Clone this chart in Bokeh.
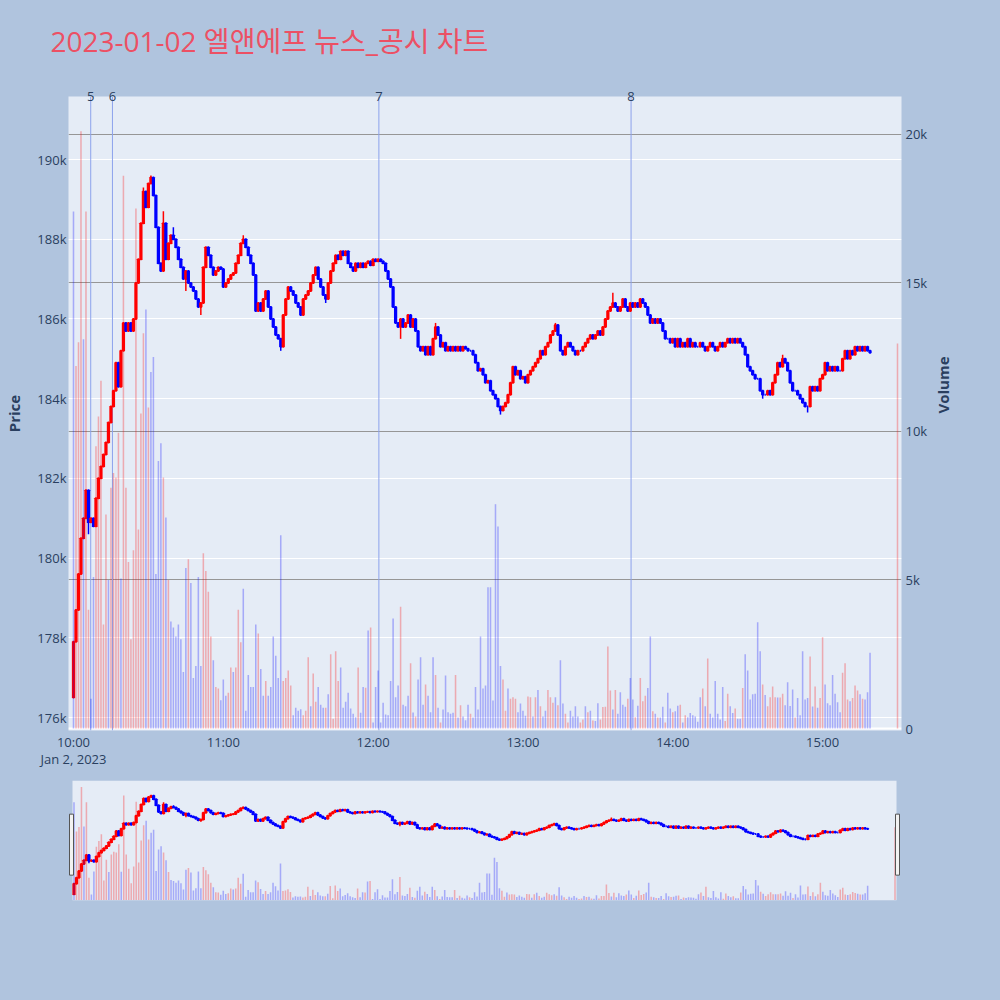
import math
from bokeh.plotting import figure
from bokeh.models import (ColumnDataSource, Range1d, LinearAxis, FixedTicker, Grid,
                          Span, Label, BoxAnnotation, GlobalInlineStyleSheet)
from bokeh.layouts import column
from bokeh.embed import file_html
from bokeh.resources import INLINE

# ---------------- data (prices in thousand KRW, minutes after 10:00) ----------------
first_open = 176.5
closes = [
    177.9, 178.7, 179.6, 180.5, 181.0, 181.7, 180.9, 181.0, 180.8, 181.5,
    182.0, 182.3, 182.6, 182.9, 183.4, 183.8, 184.2, 184.9, 184.3, 185.2,
    185.9, 185.7, 185.9, 185.7, 186.0, 186.9, 187.5, 188.4, 189.2, 188.8,
    189.4, 189.55, 189.1, 188.3, 187.4, 187.2, 188.4, 187.5, 187.9, 188.1,
    188.0, 187.8, 187.5, 187.3, 187.0, 187.2, 186.9, 186.8, 186.7, 186.5,
    186.3, 186.4, 187.3, 187.8, 187.6, 187.3, 187.1, 187.2, 187.3, 187.25,
    186.8, 186.9, 187.0, 187.1, 187.15, 187.4, 187.6, 187.9, 188.0, 187.8,
    187.6, 187.4, 187.1, 186.2, 186.4, 186.2, 186.5, 186.7, 186.3, 186.0,
    185.8, 185.6, 185.5, 185.3, 186.1, 186.5, 186.8, 186.7, 186.6, 186.4,
    186.3, 186.1, 186.5, 186.6, 186.7, 186.9, 187.1, 187.3, 187.0, 186.8,
    186.6, 186.5, 186.9, 187.2, 187.4, 187.6, 187.5, 187.7, 187.6, 187.7,
    187.4, 187.3, 187.2, 187.4, 187.3, 187.4, 187.3, 187.4, 187.45, 187.35,
    187.5, 187.45, 187.5, 187.45, 187.4, 187.2, 187.0, 186.8, 186.3, 185.9,
    185.8, 186.0, 185.8, 185.9, 186.1, 185.8, 186.0, 185.7, 185.3, 185.2,
    185.3, 185.1, 185.3, 185.1, 185.5, 185.8, 185.6, 185.3, 185.4, 185.2,
    185.3, 185.2, 185.3, 185.2, 185.3, 185.2, 185.3, 185.25, 185.2, 185.2,
    185.1, 184.9, 184.7, 184.75, 184.6, 184.4, 184.45, 184.2, 184.1, 184.0,
    183.8, 183.7, 183.8, 183.9, 184.1, 184.4, 184.8, 184.6, 184.7, 184.5,
    184.55, 184.4, 184.6, 184.7, 184.8, 184.9, 185.0, 185.2, 185.1, 185.3,
    185.4, 185.6, 185.7, 185.85, 185.6, 185.2, 185.1, 185.3, 185.4, 185.3,
    185.2, 185.1, 185.2, 185.2, 185.3, 185.4, 185.5, 185.6, 185.5, 185.6,
    185.7, 185.6, 185.8, 186.0, 186.2, 186.3, 186.4, 186.3, 186.2, 186.3,
    186.5, 186.3, 186.2, 186.4, 186.3, 186.4, 186.3, 186.5, 186.4, 186.3,
    186.1, 185.9, 186.0, 185.9, 186.0, 185.9, 185.7, 185.5, 185.5, 185.4,
    185.5, 185.3, 185.5, 185.3, 185.4, 185.3, 185.5, 185.3, 185.4, 185.3,
    185.3, 185.4, 185.3, 185.2, 185.3, 185.4, 185.3, 185.2, 185.3, 185.4,
    185.3, 185.4, 185.5, 185.4, 185.5, 185.4, 185.5, 185.4, 185.3, 185.1,
    184.8, 184.7, 184.6, 184.5, 184.5, 184.2, 184.1, 184.1, 184.2, 184.1,
    184.4, 184.6, 184.9, 184.8, 185.0, 184.9, 184.7, 184.4, 184.2, 184.2,
    184.1, 184.0, 183.9, 183.8, 183.8, 184.3, 184.2, 184.3, 184.2, 184.5,
    184.6, 184.9, 184.7, 184.8, 184.7, 184.8, 184.7, 184.7, 185.0, 185.2,
    185.0, 185.2, 185.1, 185.3, 185.2, 185.3, 185.2, 185.3, 185.2, 185.15,
]
wick_high = {28: 189.3, 31: 189.6, 36: 188.7, 40: 188.3, 68: 188.1, 145: 185.9,
             193: 185.9, 216: 186.66, 284: 185.1}
wick_low = {6: 180.6, 45: 186.7, 51: 186.1, 83: 185.2, 101: 186.4, 131: 185.5,
            171: 183.6, 276: 184.0, 294: 183.65}

vol_minutes = list(range(320)) + [330]
volumes = [  # thousand shares
    17.4, 12.2, 13.0, 20.1, 13.1, 17.4, 4.0, 1.0, 5.1, 9.5,
    10.5, 11.7, 3.5, 7.2, 5.0, 8.1, 8.6, 8.45, 9.95, 5.05,
    18.6, 8.1, 5.6, 3.0, 6.0, 17.5, 6.7, 10.6, 13.3, 14.1,
    10.8, 12.0, 12.5, 5.2, 9.0, 9.6, 8.45, 7.1, 5.0, 3.6,
    3.4, 3.1, 3.5, 3.0, 1.9, 5.4, 5.7, 4.9, 1.7, 2.1,
    5.1, 2.1, 5.9, 5.3, 4.6, 3.1, 2.3, 1.4, 1.35, 0.95,
    1.65, 1.1, 1.2, 2.05, 1.9, 2.05, 4.0, 2.9, 4.7, 0.6,
    1.8, 1.4, 1.4, 3.5, 3.2, 2.0, 1.1, 1.6, 1.1, 1.4,
    3.1, 2.45, 1.7, 6.5, 1.6, 1.7, 1.95, 1.45, 0.45, 0.7,
    0.6, 0.65, 0.45, 0.6, 2.4, 0.75, 1.85, 0.9, 1.4, 0.8,
    0.7, 0.7, 1.15, 2.5, 0.33, 2.6, 1.6, 2.05, 0.7, 0.9,
    1.2, 0.67, 0.5, 0.38, 2.05, 0.53, 1.4, 1.37, 3.3, 3.4,
    0.2, 1.4, 1.95, 0.2, 0.87, 0.47, 0.45, 1.6, 3.7, 1.05,
    1.45, 4.1, 0.8, 0.75, 1.1, 2.2, 0.54, 0.4, 1.65, 2.4,
    0.8, 1.48, 1.1, 0.55, 2.4, 1.8, 0.7, 0.2, 0.64, 1.78,
    0.55, 0.5, 0.53, 1.8, 0.37, 0.78, 0.4, 0.28, 0.8, 0.5,
    0.37, 1.4, 0.64, 3.1, 1.35, 1.45, 4.75, 4.75, 0.94, 7.55,
    6.8, 2.1, 1.65, 0.6, 1.35, 1.0, 1.05, 1.0, 0.55, 0.84,
    0.6, 0.43, 1.08, 1.05, 0.4, 1.05, 1.3, 0.75, 0.4, 0.6,
    1.3, 1.05, 0.87, 1.05, 0.78, 2.3, 0.84, 0.5, 0.2, 0.6,
    0.4, 0.75, 0.4, 0.2, 0.3, 0.75, 0.55, 0.6, 0.27, 0.25,
    0.85, 0.3, 0.72, 0.73, 2.76, 1.28, 0.64, 1.3, 0.5, 1.22,
    0.8, 0.73, 1.0, 1.7, 0.98, 0.38, 0.77, 1.7, 0.92, 1.1,
    1.36, 3.1, 0.58, 0.5, 0.37, 0.37, 0.73, 0.2, 1.2, 0.67,
    0.55, 0.58, 0.77, 0.8, 0.2, 0.45, 0.38, 0.52, 0.45, 0.4,
    0.23, 1.05, 1.35, 0.75, 2.36, 0.5, 0.37, 1.6, 0.5, 0.3,
    1.4, 0.25, 1.17, 0.75, 0.52, 0.67, 0.33, 0.33, 1.36, 2.5,
    1.95, 0.98, 1.15, 1.17, 3.58, 2.6, 1.48, 1.13, 0.75, 1.05,
    1.41, 1.05, 1.04, 1.04, 1.17, 0.78, 1.56, 0.76, 1.31, 0.37,
    1.03, 0.45, 2.6, 0.98, 1.03, 2.42, 0.74, 1.41, 0.7, 1.03,
    3.07, 1.48, 0.85, 0.78, 1.8, 1.17, 0.88, 0.55, 1.88, 2.2,
    0.98, 0.92, 1.03, 1.45, 1.28, 1.15, 1.0, 0.98, 1.22, 2.55,
    12.96,
]
vol_dir = ("brrrbrrbbr" "rrrrbrrrrb" "rrrrrrrrrb" "rbbbbbrbrb" "bbbbbbrbbb"
           "bbrrrrbrrb" "bbrrbrrrbb" "bbbbrbbrbb" "bbbbrrrrbb" "bbrrrbrrbb"
           "brbrrrrbbb" "bbbbrbbrbr" "bbbbbbbbbb" "brbbbrbrbb" "brbbbrbrbb"
           "bbbrbrbbbr" "bbbbbbbbbb" "bbrrbrrrbb" "bbrrbrbrbb" "rrrbrbbrrb"
           "bbbrrbrbrb" "brrrrrbrbb" "bbrbbrbrrr" "bbrbrbbrbb" "rbbrbrbbbb"
           "bbrbrbbbbb" "brrbbrbbrb" "bbbbbbrbrr" "rrbrrbbbbr" "bbbbbrbrbr"
           "rbbbbbbbrr" "rbrrrbrbbb" "r")

event_minutes = [6.9, 15.6, 122.3, 223.3]
event_labels = ["5", "6", "7", "8"]

hour_ticks = [0, 60, 120, 180, 240, 300]
hour_labels = ["10:00\nJan 2, 2023", "11:00", "12:00", "13:00", "14:00", "15:00"]
price_ticks = [176, 178, 180, 182, 184, 186, 188, 190]
price_labels = ["176k", "178k", "180k", "182k", "184k", "186k", "188k", "190k"]
vol_ticks = [0, 5, 10, 15, 20]
vol_labels = ["0", "5k", "10k", "15k", "20k"]

title_text = "2023-01-02 엘앤에프 뉴스_공시 차트"

# ---------------- derived sources ----------------
UP, DOWN = "#FF0000", "#0000FF"
opens = [first_open] + closes[:-1]
mins = list(range(len(closes)))
highs, lows, tops, bots, ccol = [], [], [], [], []
for i, (o, c) in enumerate(zip(opens, closes)):
    tops.append(max(o, c)); bots.append(min(o, c))
    highs.append(wick_high.get(i, max(o, c)))
    lows.append(wick_low.get(i, min(o, c)))
    ccol.append(UP if c > o else DOWN)
csrc = ColumnDataSource(dict(x=mins, top=tops, bottom=bots, high=highs, low=lows, color=ccol))
vsrc = ColumnDataSource(dict(x=vol_minutes, v=volumes,
                             color=[UP if d == "r" else DOWN for d in vol_dir]))

FONT = "'Open Sans', 'Noto Sans CJK KR', sans-serif"
TXT = "#2a3f5f"
PAGE = "#B0C4DE"
PLOT_BG = "#E5ECF6"

X_LO, X_HI = -2.0, 331.6
P_LO, P_HI = 175.674, 191.581
V_LO, V_HI = -0.067, 21.27

# ---------------- title strip ----------------
t = figure(width=984, height=76, x_range=Range1d(0, 984), y_range=Range1d(0, 76),
           output_backend="svg", toolbar_location=None, title=None,
           x_axis_location=None, y_axis_location=None, min_border=0, frame_align=False,
           background_fill_color=PAGE, border_fill_color=PAGE, outline_line_color=None)
t.grid.visible = False
t.add_layout(Label(x=50, y=36, x_units="screen", y_units="screen", text=title_text,
                   text_font=FONT, text_font_size="28px", text_color="#EC5064",
                   text_baseline="alphabetic", text_align="left"))

# ---------------- main figure ----------------
p = figure(width=984, height=700, x_range=Range1d(X_LO, X_HI), y_range=Range1d(P_LO, P_HI),
           output_backend="svg", toolbar_location=None, frame_align=False,
           min_border_left=68, min_border_right=83, min_border_top=20, min_border_bottom=46,
           background_fill_color=PLOT_BG, border_fill_color=PAGE, outline_line_color=None)
p.extra_y_ranges = {"vol": Range1d(V_LO, V_HI)}

p.xgrid.visible = False
p.ygrid.ticker = FixedTicker(ticks=price_ticks)
p.ygrid.grid_line_color = "white"
p.ygrid.grid_line_width = 1

vgrid = Grid(dimension=1, ticker=FixedTicker(ticks=vol_ticks[1:]), y_range_name="vol",
             grid_line_color="#969696", grid_line_width=1)
p.add_layout(vgrid)
p.add_layout(Span(location=0, dimension="width", y_range_name="vol",
                  line_color="white", line_width=2, level="underlay"))
for m in event_minutes:
    p.add_layout(Span(location=m, dimension="height", line_color="#8CA2EC",
                      line_width=1, level="underlay"))

def style_axis(ax):
    ax.axis_line_color = None
    ax.major_tick_line_color = None
    ax.minor_tick_line_color = None
    ax.major_tick_out = 0
    ax.major_tick_in = 0
    ax.minor_tick_out = 0
    ax.minor_tick_in = 0
    ax.major_label_text_font = FONT
    ax.major_label_text_font_size = "13px"
    ax.major_label_text_color = TXT

ya = p.yaxis[0]
ya.ticker = FixedTicker(ticks=price_ticks)
ya.major_label_overrides = dict(zip(price_ticks, price_labels))
style_axis(ya)
ya.major_label_standoff = 2
ya.axis_label = "Price"
ya.axis_label_text_font = FONT
ya.axis_label_text_font_size = "15px"
ya.axis_label_text_font_style = "bold"
ya.axis_label_text_color = TXT
ya.axis_label_standoff = 10

xa = p.xaxis[0]
xa.ticker = FixedTicker(ticks=hour_ticks)
xa.major_label_overrides = dict(zip(hour_ticks, hour_labels))
style_axis(xa)
xa.major_label_standoff = 2
xa.major_label_text_line_height = 0.95

ra = LinearAxis(y_range_name="vol", ticker=FixedTicker(ticks=vol_ticks),
                major_label_overrides=dict(zip(vol_ticks, vol_labels)))
style_axis(ra)
ra.major_label_standoff = 4
ra.axis_label = "Volume"
ra.axis_label_text_font = FONT
ra.axis_label_text_font_size = "15px"
ra.axis_label_text_font_style = "bold"
ra.axis_label_text_color = TXT
ra.axis_label_standoff = 13
if "axis_label_orientation" in ra.properties():
    ra.axis_label_orientation = math.pi / 2
p.add_layout(ra, "right")

# news-event numbers on a top axis, pulled down onto the frame edge
ea = LinearAxis(ticker=FixedTicker(ticks=event_minutes),
                major_label_overrides=dict(zip(event_minutes, event_labels)))
style_axis(ea)
ea.major_label_standoff = -4
p.add_layout(ea, "above")

# candles
p.segment(x0="x", y0="low", x1="x", y1="high", line_color="color", line_width=1.5, source=csrc)
p.vbar(x="x", width=0.5, top="top", bottom="bottom", fill_color="color",
       line_color="color", line_width=2, source=csrc)
# volume (semi-transparent, drawn over the candles)
p.vbar(x="x", width=0.62, top="v", bottom=0, fill_color="color", fill_alpha=0.28,
       line_color=None, y_range_name="vol", source=vsrc)

# ---------------- range slider ----------------
S_LO, S_HI = -0.6, 330.6          # full data extent shown in the slider
px_per_min = 824 / (S_HI - S_LO)
SX_LO, SX_HI = S_LO - 8 / px_per_min, S_HI + 8 / px_per_min
s = figure(width=984, height=208, x_range=Range1d(SX_LO, SX_HI), y_range=Range1d(P_LO, P_HI),
           output_backend="svg", toolbar_location=None, frame_align=False,
           x_axis_location=None, y_axis_location=None,
           min_border_left=64, min_border_right=80, min_border_top=4, min_border_bottom=84,
           background_fill_color=PAGE, border_fill_color=PAGE, outline_line_color=None)
s.extra_y_ranges = {"vol": Range1d(V_LO, V_HI)}
s.grid.visible = False
s.add_layout(BoxAnnotation(left=S_LO, right=S_HI, fill_color=PLOT_BG, fill_alpha=1,
                           line_color=None, level="underlay"))
s.segment(x0="x", y0="low", x1="x", y1="high", line_color="color", line_width=1.5, source=csrc)
s.vbar(x="x", width=0.5, top="top", bottom="bottom", fill_color="color",
       line_color="color", line_width=2, source=csrc)
s.vbar(x="x", width=0.62, top="v", bottom=0, fill_color="color", fill_alpha=0.28,
       line_color=None, y_range_name="vol", source=vsrc)
hx = [S_LO - 1 / px_per_min, S_HI + 1 / px_per_min]
s.rect(x=hx, y=[(P_LO + P_HI) / 2 - 0.55] * 2, width=4, height=61,
       width_units="screen", height_units="screen",
       fill_color="#f2f2f2", line_color="#555555", line_width=1)

css = GlobalInlineStyleSheet(css="html, body {margin:0; padding:0; background:#B0C4DE;}")
layout = column(t, p, s, stylesheets=[css])

open("out.html", "w").write(file_html(layout, INLINE))
